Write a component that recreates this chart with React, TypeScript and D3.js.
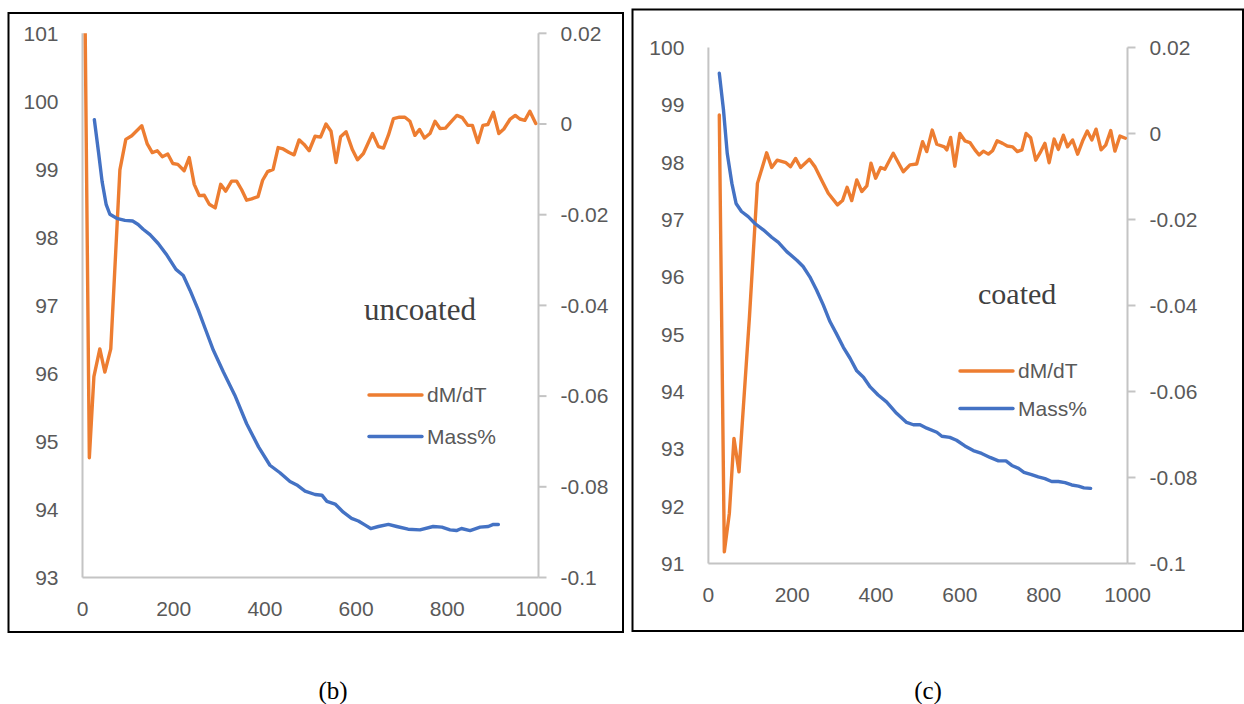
import React, { useEffect, useRef } from 'react';
import * as d3 from 'd3';

// uncoated sample (b)
const uncoatedDmdtTemp = [5, 15, 25, 38, 49, 62, 82, 95, 108, 119, 130, 142, 153, 164, 175, 187, 198, 209, 223, 234, 245, 256, 267, 278, 291, 303, 314, 327, 338, 349, 360, 371, 385, 395, 406, 418, 429, 440, 453, 464, 475, 486, 497, 510, 522, 534, 545, 556, 566, 578, 592, 603, 616, 636, 649, 660, 671, 682, 695, 707, 718, 729, 739, 750, 762, 773, 784, 796, 810, 821, 833, 845, 855, 867, 878, 889, 901, 913, 924, 938, 949, 959, 970, 981, 994];
const uncoatedDmdt = [0.03, -0.0736, -0.0557, -0.0496, -0.0547, -0.0496, -0.0101, -0.0034, -0.0026, -0.0015, -0.0004, -0.0044, -0.0063, -0.0059, -0.0072, -0.0066, -0.0087, -0.0089, -0.0103, -0.0074, -0.0133, -0.0158, -0.0157, -0.0177, -0.0185, -0.0133, -0.0148, -0.0126, -0.0126, -0.0145, -0.0168, -0.0165, -0.016, -0.0124, -0.0105, -0.01, -0.0052, -0.0055, -0.0063, -0.0068, -0.0035, -0.0045, -0.0059, -0.0027, -0.0029, 0.0, -0.0016, -0.0085, -0.0028, -0.0017, -0.0057, -0.0079, -0.0065, -0.0021, -0.005, -0.0053, -0.0024, 0.0012, 0.0015, 0.0015, 0.0006, -0.0025, -0.0012, -0.0031, -0.0021, 0.0006, -0.001, -0.0009, 0.0007, 0.0019, 0.0014, -0.0003, -0.0003, -0.0041, -0.0003, -0.0001, 0.0026, -0.0021, -0.0011, 0.0011, 0.0019, 0.0011, 0.0008, 0.0028, 0.0001];
const uncoatedMassTemp = [26, 35, 43, 52, 60, 75, 93, 110, 122, 133, 148, 166, 185, 205, 221, 236, 254, 269, 287, 309, 334, 360, 386, 411, 433, 455, 470, 488, 510, 525, 536, 554, 572, 590, 605, 620, 632, 649, 671, 689, 714, 740, 769, 788, 806, 820, 831, 850, 872, 890, 901, 912];
const uncoatedMass = [99.73, 99.26, 98.82, 98.48, 98.34, 98.28, 98.25, 98.24, 98.19, 98.12, 98.04, 97.91, 97.74, 97.53, 97.44, 97.22, 96.93, 96.66, 96.34, 96.02, 95.68, 95.26, 94.92, 94.65, 94.54, 94.41, 94.36, 94.27, 94.22, 94.21, 94.12, 94.08, 93.96, 93.87, 93.83, 93.77, 93.72, 93.75, 93.78, 93.75, 93.71, 93.7, 93.75, 93.74, 93.7, 93.69, 93.72, 93.69, 93.74, 93.75, 93.78, 93.78];

// coated sample (c)
const coatedDmdtTemp = [26, 38, 50, 61, 73, 98, 117, 139, 151, 164, 185, 196, 208, 220, 241, 254, 270, 286, 308, 320, 331, 342, 354, 366, 378, 388, 399, 411, 421, 441, 465, 481, 497, 511, 521, 534, 545, 563, 569, 578, 588, 600, 612, 624, 636, 646, 656, 668, 678, 689, 702, 713, 726, 737, 748, 758, 769, 781, 793, 803, 813, 825, 835, 847, 857, 869, 881, 893, 904, 915, 925, 937, 948, 960, 970, 982, 995];
const coatedDmdt = [0.0043, -0.0973, -0.0883, -0.0709, -0.0787, -0.0426, -0.0116, -0.0045, -0.0079, -0.0062, -0.0068, -0.0077, -0.0058, -0.0079, -0.006, -0.0077, -0.0108, -0.0139, -0.0166, -0.0156, -0.0125, -0.0156, -0.0108, -0.0135, -0.0122, -0.0069, -0.0104, -0.0079, -0.0083, -0.0046, -0.0089, -0.0073, -0.0071, -0.0019, -0.0042, 0.0008, -0.0025, -0.0031, -0.0038, -0.0009, -0.0076, 0.0, -0.0017, -0.0021, -0.0038, -0.005, -0.0041, -0.0048, -0.004, -0.0017, -0.0023, -0.0029, -0.0031, -0.0042, -0.0038, 0.0, -0.001, -0.0062, -0.0042, -0.0023, -0.0068, -0.0013, -0.0037, -0.0004, -0.0031, -0.0015, -0.0048, -0.0017, 0.0006, -0.0015, 0.001, -0.0038, -0.0027, 0.0007, -0.0041, -0.0006, -0.0011];
const coatedMassTemp = [26, 36, 45, 56, 66, 79, 95, 111, 131, 151, 167, 187, 211, 226, 242, 258, 274, 290, 306, 322, 338, 354, 370, 386, 405, 425, 449, 473, 489, 505, 521, 545, 557, 576, 592, 612, 632, 652, 672, 692, 710, 724, 740, 753, 771, 787, 803, 819, 835, 851, 867, 883, 896, 912];
const coatedMass = [99.55, 98.91, 98.15, 97.63, 97.28, 97.14, 97.05, 96.93, 96.82, 96.69, 96.6, 96.44, 96.29, 96.18, 96.0, 95.77, 95.51, 95.22, 95.0, 94.77, 94.58, 94.36, 94.25, 94.08, 93.94, 93.82, 93.62, 93.46, 93.42, 93.42, 93.36, 93.29, 93.22, 93.2, 93.15, 93.05, 92.97, 92.92, 92.85, 92.79, 92.79, 92.71, 92.66, 92.59, 92.55, 92.51, 92.48, 92.43, 92.43, 92.41, 92.37, 92.35, 92.32, 92.31];

const tempTicks = [0, 200, 400, 600, 800, 1000];
const dmdtTicks = [0.02, 0, -0.02, -0.04, -0.06, -0.08, -0.1];
const uncoatedMassTicks = [93, 94, 95, 96, 97, 98, 99, 100, 101];
const coatedMassTicks = [91, 92, 93, 94, 95, 96, 97, 98, 99, 100];
const seriesNames = ['dM/dT', 'Mass%'];

const ORANGE = '#ED7D31';
const BLUE = '#4472C4';
const AXIS = '#c4c4c4';
const TICK_TEXT = '#595959';
const SANS = '"Liberation Sans", Arial, sans-serif';
const SERIF = '"Liberation Serif", "Times New Roman", serif';

const panels = [
  {
    id: 'b',
    box: { x: 8.5, y: 13, w: 614.5, h: 619 },
    plot: { left: 82.5, right: 538.5, top: 33.3, bottom: 577.5 },
    massDomain: [93, 101],
    massTicks: uncoatedMassTicks,
    dmdtT: uncoatedDmdtTemp, dmdt: uncoatedDmdt,
    massT: uncoatedMassTemp, mass: uncoatedMass,
    label: 'uncoated', labelPos: [364, 320], labelSize: 31,
    legend: { x1: 369, x2: 422, y: 395, dy: 41.5 },
    caption: '(b)', captionX: 333,
  },
  {
    id: 'c',
    box: { x: 632.5, y: 9.5, w: 610.5, h: 621.5 },
    plot: { left: 708.4, right: 1127.5, top: 47.5, bottom: 563.5 },
    massDomain: [91, 100],
    massTicks: coatedMassTicks,
    dmdtT: coatedDmdtTemp, dmdt: coatedDmdt,
    massT: coatedMassTemp, mass: coatedMass,
    label: 'coated', labelPos: [978, 304], labelSize: 30,
    legend: { x1: 960, x2: 1013, y: 371, dy: 37.5 },
    caption: '(c)', captionX: 928,
  },
];

const App = () => {
  const svgRef = useRef(null);

  useEffect(() => {
    const svg = d3.select(svgRef.current);
    svg.selectAll('*').remove();
    const defs = svg.append('defs');

    panels.forEach((p) => {
      const { plot } = p;
      const x = d3.scaleLinear().domain([0, 1000]).range([plot.left, plot.right]);
      const yMass = d3.scaleLinear().domain(p.massDomain).range([plot.bottom, plot.top]);
      const yRate = d3.scaleLinear().domain([-0.1, 0.02]).range([plot.bottom, plot.top]);

      const g = svg.append('g');

      // outer frame
      g.append('rect')
        .attr('x', p.box.x).attr('y', p.box.y)
        .attr('width', p.box.w).attr('height', p.box.h)
        .attr('fill', 'none').attr('stroke', '#000').attr('stroke-width', 2);

      // axes lines
      g.append('line')
        .attr('x1', plot.left).attr('x2', plot.left)
        .attr('y1', plot.top).attr('y2', plot.bottom)
        .attr('stroke', AXIS).attr('stroke-width', 2);
      g.append('line')
        .attr('x1', plot.left).attr('x2', plot.right)
        .attr('y1', plot.bottom).attr('y2', plot.bottom)
        .attr('stroke', AXIS).attr('stroke-width', 2);
      g.append('line')
        .attr('x1', plot.right).attr('x2', plot.right)
        .attr('y1', plot.top).attr('y2', plot.bottom)
        .attr('stroke', AXIS).attr('stroke-width', 2);

      // right axis ticks
      g.selectAll('.rtick').data(dmdtTicks).enter().append('line')
        .attr('x1', plot.right).attr('x2', plot.right + 8)
        .attr('y1', (d) => yRate(d)).attr('y2', (d) => yRate(d))
        .attr('stroke', AXIS).attr('stroke-width', 2);

      const tickText = (sel) => sel
        .attr('font-family', SANS).attr('font-size', 21)
        .attr('fill', TICK_TEXT).attr('dy', '0.35em');

      g.selectAll('.ltext').data(p.massTicks).enter().append('text')
        .attr('x', plot.left - 24).attr('y', (d) => yMass(d))
        .attr('text-anchor', 'end')
        .call(tickText)
        .text((d) => d);

      g.selectAll('.rtext').data(dmdtTicks).enter().append('text')
        .attr('x', plot.right + 22).attr('y', (d) => yRate(d))
        .attr('text-anchor', 'start')
        .call(tickText)
        .text((d) => (d === 0 ? '0' : String(d)));

      g.selectAll('.xtext').data(tempTicks).enter().append('text')
        .attr('x', (d) => x(d)).attr('y', plot.bottom + 31)
        .attr('text-anchor', 'middle')
        .call(tickText)
        .text((d) => d);

      // clip to plot area
      defs.append('clipPath').attr('id', `clip-${p.id}`)
        .append('rect')
        .attr('x', plot.left).attr('y', plot.top)
        .attr('width', plot.right - plot.left).attr('height', plot.bottom - plot.top);

      const lines = g.append('g').attr('clip-path', `url(#clip-${p.id})`);

      const massLine = d3.line()
        .x((d, i) => x(p.massT[i]))
        .y((d) => yMass(d));
      const rateLine = d3.line()
        .x((d, i) => x(p.dmdtT[i]))
        .y((d) => yRate(d));

      lines.append('path')
        .attr('d', rateLine(p.dmdt))
        .attr('fill', 'none').attr('stroke', ORANGE)
        .attr('stroke-width', 3.4).attr('stroke-linejoin', 'round').attr('stroke-linecap', 'round');

      lines.append('path')
        .attr('d', massLine(p.mass))
        .attr('fill', 'none').attr('stroke', BLUE)
        .attr('stroke-width', 3.4).attr('stroke-linejoin', 'round').attr('stroke-linecap', 'round');

      // sample label
      g.append('text')
        .attr('x', p.labelPos[0]).attr('y', p.labelPos[1])
        .attr('font-family', SERIF).attr('font-size', p.labelSize)
        .attr('fill', '#404040')
        .text(p.label);

      // legend
      const leg = g.selectAll('.leg').data(seriesNames).enter().append('g');
      leg.append('line')
        .attr('x1', p.legend.x1).attr('x2', p.legend.x2)
        .attr('y1', (d, i) => p.legend.y + i * p.legend.dy)
        .attr('y2', (d, i) => p.legend.y + i * p.legend.dy)
        .attr('stroke', (d, i) => (i === 0 ? ORANGE : BLUE))
        .attr('stroke-width', 3.4).attr('stroke-linecap', 'round');
      leg.append('text')
        .attr('x', p.legend.x2 + 5)
        .attr('y', (d, i) => p.legend.y + i * p.legend.dy)
        .call(tickText)
        .text((d) => d);

      // caption under the frame
      svg.append('text')
        .attr('x', p.captionX).attr('y', 699)
        .attr('text-anchor', 'middle')
        .attr('font-family', SERIF).attr('font-size', 25)
        .attr('fill', '#000')
        .text(p.caption);
    });
  }, []);

  return (
    <svg
      ref={svgRef}
      width={1244}
      height={704}
      style={{ position: 'absolute', left: 0, top: 0, background: '#fff' }}
    />
  );
};

export default App;
